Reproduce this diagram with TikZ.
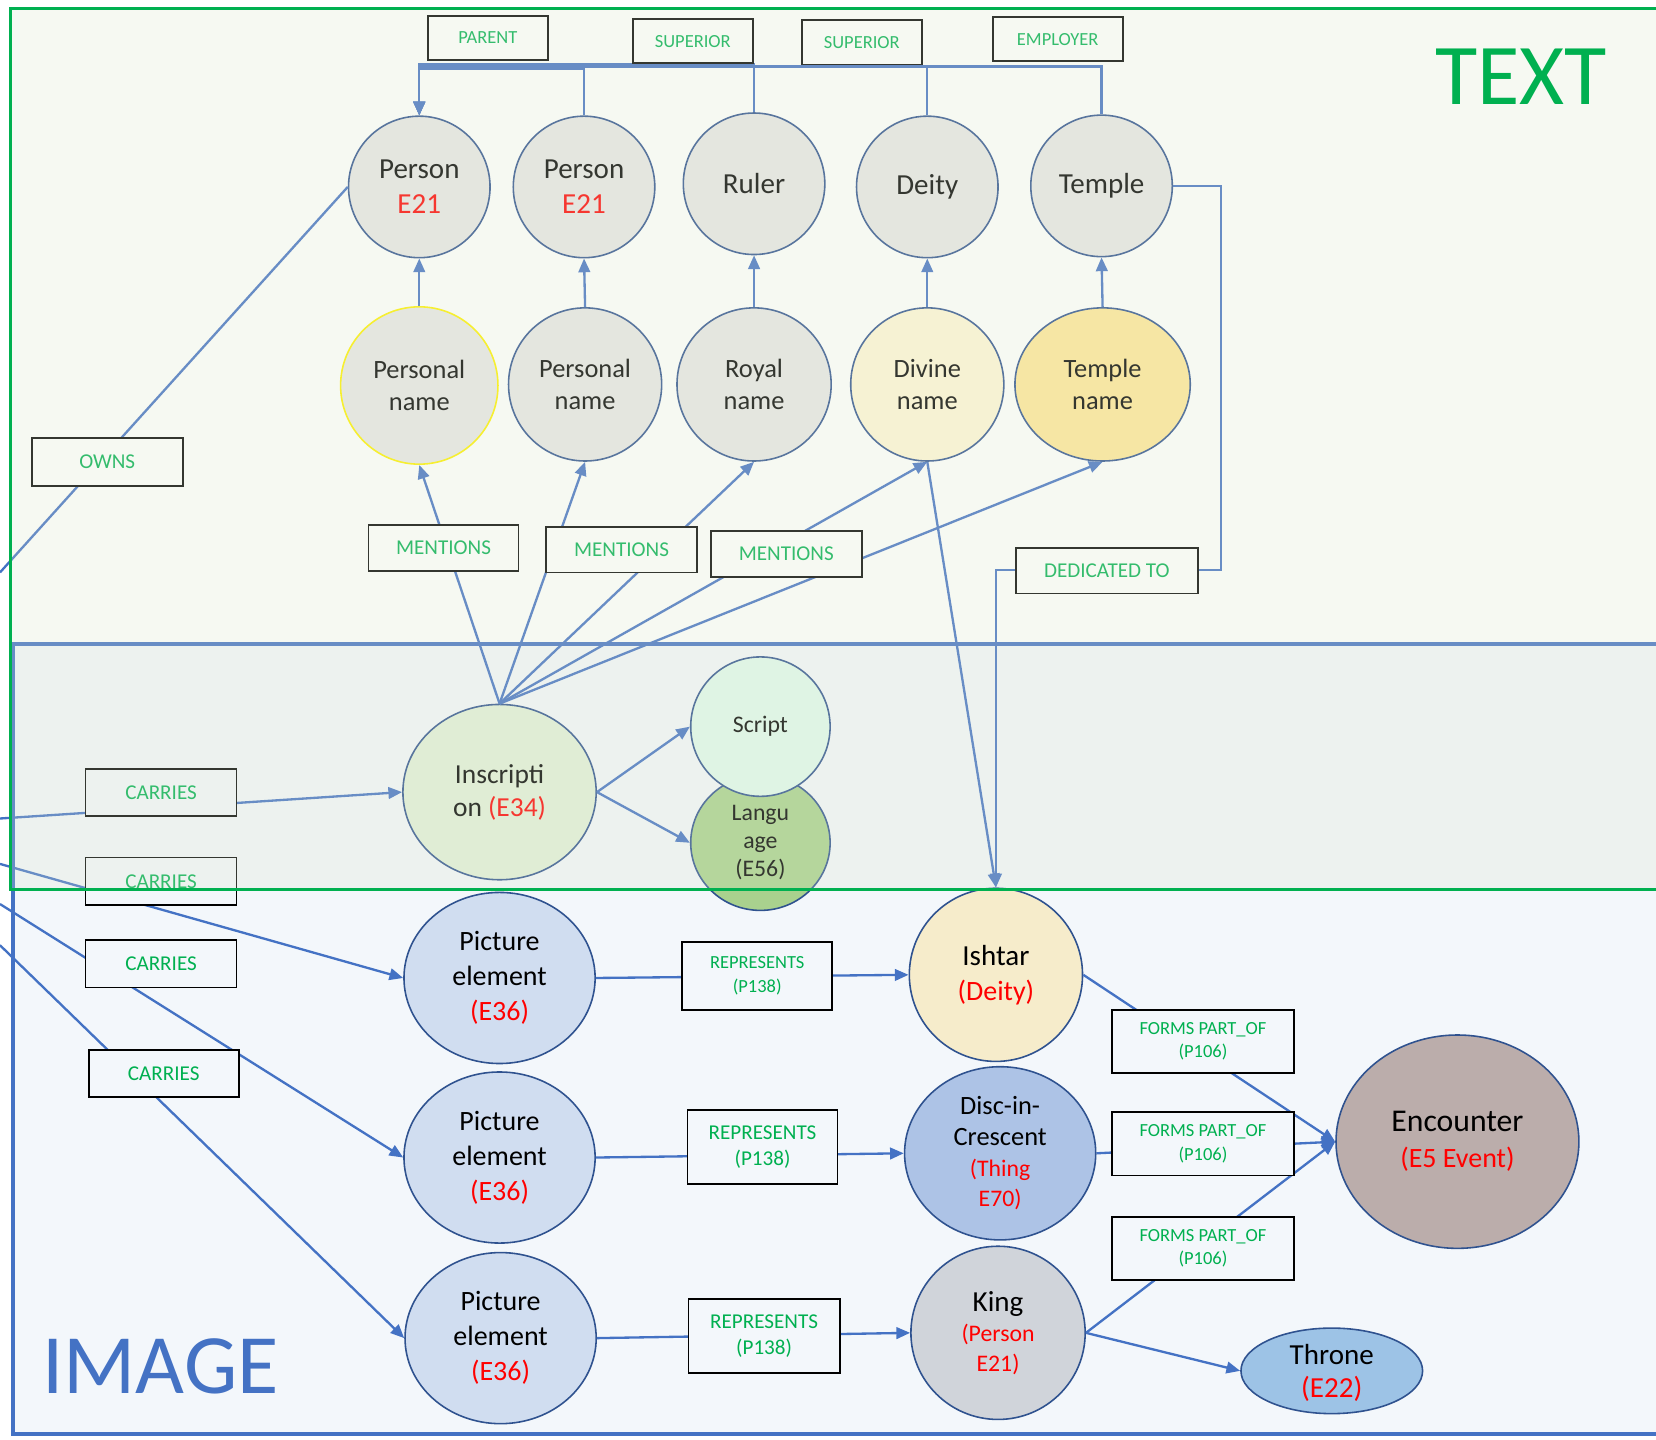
\documentclass[tikz,border=0pt]{standalone}
\usepackage{fontspec}
\setmainfont{Carlito}
\usetikzlibrary{shapes.geometric,arrows.meta}
\definecolor{lnk}{HTML}{4472C4}
\definecolor{nodeb}{HTML}{2F528F}
\definecolor{grn}{HTML}{00B050}
\definecolor{rd}{HTML}{FF0000}
\definecolor{imgbg}{HTML}{F3F7FB}
\definecolor{ovl}{HTML}{DCE6CB}
\definecolor{gry}{HTML}{E7E6E6}
\definecolor{divfill}{HTML}{FFF6D6}
\definecolor{tnfill}{HTML}{FFE699}
\definecolor{inscfill}{HTML}{E2F0D9}
\definecolor{scrfill}{HTML}{E1F9EC}
\definecolor{langfill}{HTML}{A9D18E}
\definecolor{pefill}{HTML}{D0DDF0}
\definecolor{ishfill}{HTML}{F6ECCB}
\definecolor{discfill}{HTML}{ADC3E6}
\definecolor{kingfill}{HTML}{D0D4DA}
\definecolor{encfill}{HTML}{BBADAB}
\definecolor{thrfill}{HTML}{9DC3E6}
\begin{document}
\begin{tikzpicture}[x=1pt,y=-1pt,
  lk/.style={draw=lnk, line width=2.2pt},
  arr/.style={-{Triangle[length=13pt,width=11pt]}},
  nd/.style={ellipse, draw=nodeb, line width=1.5pt, inner sep=0pt, align=center, text=black},
  lbl/.style={draw=black, line width=1.7pt, inner sep=0pt, align=center, text=grn},
  lbltop/.style={lbl, fill=white},
  lblimg/.style={lbl, fill=imgbg},
  fa/.style={font=\fontsize{17.5}{21}\selectfont},
  fb/.style={font=\fontsize{20}{24}\selectfont},
]
\clip (0,0) rectangle (1568,1363);
\fill[white] (0,0) rectangle (1568,1363);
% IMAGE frame
\fill[imgbg] (12,610) rectangle (1620,1358);
\draw[lnk, line width=3.5pt] (1620,610) -- (12,610) -- (12,1358) -- (1620,1358);

% free ends on the left edge
\coordinate (lo) at (0,542);
\coordinate (c1) at (0,775);
\coordinate (c2) at (0,818);
\coordinate (c3) at (0,856);
\coordinate (c4) at (0,895);

% ---- ellipse nodes
\begin{scope}[font=\fontsize{27.5}{33}\selectfont]
\node[nd, fill=gry, minimum width=134pt, minimum height=134pt] (p1) at (397,177) {Person\\\textcolor{rd}{E21}};
\node[nd, fill=gry, minimum width=134pt, minimum height=134pt] (p2) at (553,177) {Person\\\textcolor{rd}{E21}};
\node[nd, fill=gry, minimum width=134pt, minimum height=134pt] (ruler) at (714,174) {Ruler};
\node[nd, fill=gry, minimum width=134pt, minimum height=134pt] (deity) at (878,177) {Deity};
\node[nd, fill=gry, minimum width=134pt, minimum height=134pt] (temple) at (1043,176) {Temple};
\end{scope}
\begin{scope}[font=\fontsize{25}{30}\selectfont]
\node[nd, fill=gry, draw=yellow, minimum width=149pt, minimum height=149pt] (pn1) at (397,365) {Personal\\name};
\node[nd, fill=gry, minimum width=145pt, minimum height=145pt] (pn2) at (554,364) {Personal\\name};
\node[nd, fill=gry, minimum width=146pt, minimum height=145pt] (royal) at (714,364) {Royal\\name};
\node[nd, fill=divfill, minimum width=145pt, minimum height=145pt] (divine) at (878,364) {Divine\\name};
\node[nd, fill=tnfill, minimum width=166pt, minimum height=145pt] (tname) at (1044,364) {Temple\\name};
\end{scope}
\node[nd, fill=inscfill, minimum width=183pt, minimum height=166pt, font=\fontsize{26}{31}\selectfont] (insc) at (473,750) {Inscripti\\on \textcolor{rd}{(E34)}};
\node[nd, fill=langfill, minimum width=132pt, minimum height=128pt, font=\fontsize{22.5}{26.5}\selectfont] (lang) at (720,798) {Langu\\age\\(E56)};
\node[nd, fill=scrfill, minimum width=132pt, minimum height=132pt, font=\fontsize{22.5}{26.5}\selectfont] (script) at (720,688) {Script};

\begin{scope}[font=\fontsize{26.5}{33}\selectfont]
\node[nd, fill=pefill, minimum width=181pt, minimum height=162pt] (pe1) at (473,926) {Picture\\element\\\textcolor{rd}{(E36)}};
\node[nd, fill=pefill, minimum width=181pt, minimum height=162pt] (pe2) at (473,1096) {Picture\\element\\\textcolor{rd}{(E36)}};
\node[nd, fill=pefill, minimum width=181pt, minimum height=162pt] (pe3) at (474,1267) {Picture\\element\\\textcolor{rd}{(E36)}};
\end{scope}
\node[nd, fill=ishfill, minimum width=164pt, minimum height=164pt, font=\fontsize{27.5}{33}\selectfont] (ishtar) at (943,923) {Ishtar\\\textcolor{rd}{\fontsize{26.5}{33}\selectfont(Deity)}};
\node[nd, fill=discfill, minimum width=181pt, minimum height=164pt, font=\fontsize{25}{29}\selectfont] (disc) at (947,1092) {Disc-in-\\Crescent\\\textcolor{rd}{\fontsize{22.5}{29}\selectfont(Thing}\\\textcolor{rd}{\fontsize{22.5}{29}\selectfont E70)}};
\node[nd, fill=kingfill, minimum width=165pt, minimum height=164pt, font=\fontsize{27.5}{28.5}\selectfont] (king) at (945,1262) {King\\\textcolor{rd}{\fontsize{22.5}{28.5}\selectfont(Person}\\\textcolor{rd}{\fontsize{22.5}{28.5}\selectfont E21)}};
\node[nd, fill=encfill, minimum width=230pt, minimum height=202pt, font=\fontsize{30}{34}\selectfont] (enc) at (1380,1081) {Encounter\\\textcolor{rd}{\fontsize{26.5}{34}\selectfont(E5 Event)}};
\node[nd, fill=thrfill, minimum width=172pt, minimum height=81pt,
  label={[align=center, font=\fontsize{27.5}{32}\selectfont, yshift=-2pt]center:Throne\\\textcolor{rd}{(E22)}}] (throne) at (1261,1298) {};

% ---- connectors
\draw[lk,arr] (ruler.north) |- (397,61) -- (p1.north);
\draw[lk,arr] (p2.north) |- (397,65.5) -- (p1.north);
\draw[lk,arr] (deity.north) |- (397,63) -- (p1.north);
\draw[lk,arr] (temple.north) |- (397,63) -- (p1.north);

\draw[lk,arr] (pn1.north) -- (p1.south);
\draw[lk,arr] (pn2.north) -- (p2.south);
\draw[lk,arr] (royal.north) -- (ruler.south);
\draw[lk,arr] (divine.north) -- (deity.south);
\draw[lk,arr] (tname.north) -- (temple.south);

\draw[lk] (p1.west) -- (lo);

\draw[lk,arr] (insc.north) -- (pn1.south);
\draw[lk,arr] (insc.north) -- (pn2.south);
\draw[lk,arr] (insc.north) -- (royal.south);
\draw[lk,arr] (insc.north) -- (divine.south);
\draw[lk,arr] (insc.north) -- (tname.south);

\draw[lk,arr] (divine.south) -- (ishtar.north);
\draw[lk,arr] (temple.east) -| (1156,540) -| (ishtar.north);

\draw[lk,arr] (insc.east) -- (script.west);
\draw[lk,arr] (insc.east) -- (lang.west);

\draw[lk,arr] (c1) -- (insc.west);
\draw[lk,arr] (c2) -- (pe1.west);
\draw[lk,arr] (c3) -- (pe2.west);
\draw[lk,arr] (c4) -- (pe3.west);

\draw[lk,arr] (pe1.east) -- (ishtar.west);
\draw[lk,arr] (pe2.east) -- (disc.west);
\draw[lk,arr] (pe3.east) -- (king.west);

\draw[lk,arr] (ishtar.east) -- (enc.west);
\draw[lk,arr] (disc.east) -- (enc.west);
\draw[lk,arr] (king.east) -- (enc.west);
\draw[lk,arr] (king.east) -- (throne.west);

% ---- label boxes
\node[lbltop, fa, minimum width=114pt, minimum height=42pt] (lparent) at (462,36) {PARENT};
\node[lbltop, fa, minimum width=114pt, minimum height=42pt] (lsup1) at (656,39) {SUPERIOR};
\node[lbltop, fa, minimum width=114pt, minimum height=42pt] (lsup2) at (816,40) {SUPERIOR};
\node[lbltop, fa, minimum width=123pt, minimum height=42pt] (lemp) at (1001.5,37) {EMPLOYER};
\node[lbltop, fb, minimum width=143pt, minimum height=45pt] (lowns) at (101.5,437.5) {OWNS};
\node[lbltop, fb, minimum width=142pt, minimum height=44pt] (lmen1) at (420,519) {MENTIONS};
\node[lbltop, fb, minimum width=143pt, minimum height=43pt] (lmen2) at (588.5,520.5) {MENTIONS};
\node[lbltop, fb, minimum width=143pt, minimum height=43pt] (lmen3) at (744.5,524.5) {MENTIONS};
\node[lbltop, fb, minimum width=172pt, minimum height=43pt] (lded) at (1048,540.5) {DEDICATED TO};
\node[lblimg, fb, minimum width=143pt, minimum height=45pt] (lcar1) at (152.5,750.5) {CARRIES};
\node[lblimg, fb, minimum width=143pt, minimum height=45pt] (lcar2) at (152.5,834.5) {CARRIES};
\node[lblimg, fb, minimum width=143pt, minimum height=45pt] (lcar3) at (152.5,912.5) {CARRIES};
\node[lblimg, fb, minimum width=142pt, minimum height=45pt] (lcar4) at (155,1016.5) {CARRIES};
\node[lblimg, font=\fontsize{17.5}{22}\selectfont, minimum width=142pt, minimum height=64pt] (lrep1) at (717,924) {REPRESENTS\\(P138)};
\node[lblimg, font=\fontsize{20}{24}\selectfont, minimum width=142pt, minimum height=70pt] (lrep2) at (722,1086) {REPRESENTS\\(P138)};
\node[lblimg, font=\fontsize{20}{24}\selectfont, minimum width=143pt, minimum height=70pt] (lrep3) at (723.5,1265) {REPRESENTS\\(P138)};
\node[lblimg, font=\fontsize{17.5}{22}\selectfont, minimum width=172pt, minimum height=60pt] (lfp1) at (1139,986) {FORMS PART\_OF\\(P106)};
\node[lblimg, font=\fontsize{17.5}{22}\selectfont, minimum width=172pt, minimum height=60pt] (lfp2) at (1139,1083) {FORMS PART\_OF\\(P106)};
\node[lblimg, font=\fontsize{17.5}{22}\selectfont, minimum width=172pt, minimum height=60pt] (lfp3) at (1139,1182) {FORMS PART\_OF\\(P106)};

% ---- TEXT frame overlay
\fill[ovl, fill opacity=0.24] (10,8) rectangle (1620,842);
\draw[grn, line width=3.2pt] (1620,8) -- (10,8) -- (10,842) -- (1620,842);
\node[text=grn, font=\fontsize{82}{82}\selectfont, inner sep=0pt] (ttext) at (1440,73) {TEXT};
\node[text=lnk, font=\fontsize{80}{80}\selectfont, inner sep=0pt] (timage) at (152,1294) {IMAGE};
\end{tikzpicture}
\end{document}
